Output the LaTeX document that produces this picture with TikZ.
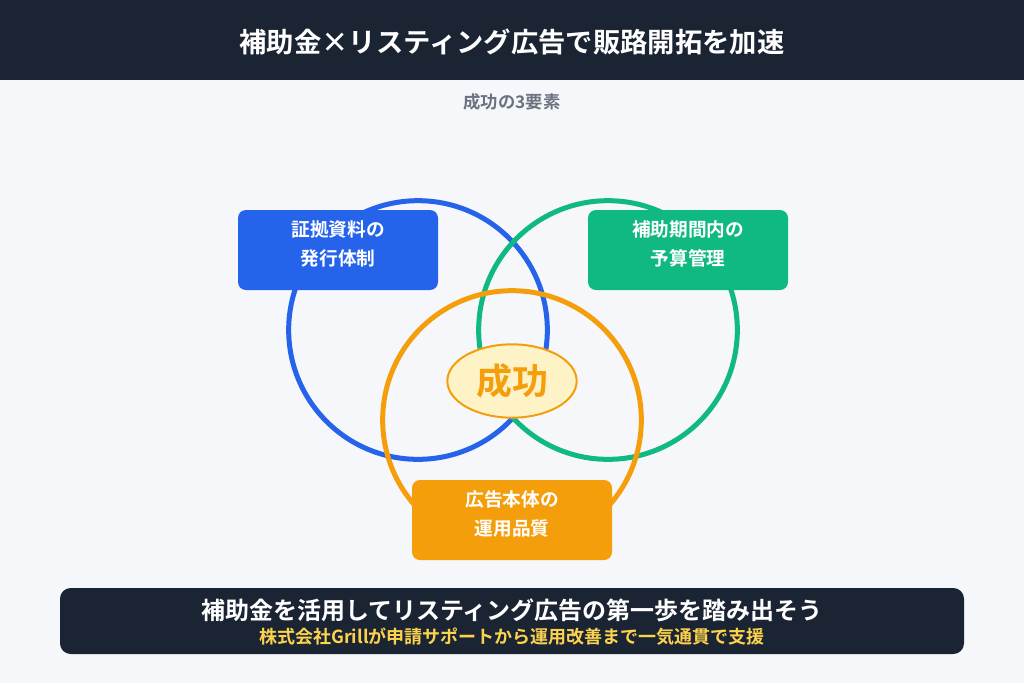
\documentclass[tikz,border=0pt]{standalone}
\usepackage{fontspec}
\setmainfont{Noto Sans CJK JP}[BoldFont={Noto Sans CJK JP Bold}]
\usetikzlibrary{shapes.geometric}
\definecolor{bg}{HTML}{F5F7FA}
\definecolor{dark}{HTML}{1B2433}
\definecolor{cblue}{HTML}{2563EB}
\definecolor{cgreen}{HTML}{10B981}
\definecolor{corange}{HTML}{F59E0B}
\definecolor{cgray}{HTML}{6B7280}
\definecolor{cyellow}{HTML}{FCD34D}
\definecolor{lightyellow}{HTML}{FEF3C7}
\tikzset{
  ring/.style={circle, draw, line width=3.75pt, minimum size=194pt, inner sep=0pt},
  labelbox/.style={rounded corners=6pt, minimum width=150pt, minimum height=60pt, inner sep=0pt},
  boxtext/.style={text=white, font=\bfseries\fontsize{14pt}{21.5pt}\selectfont, align=center, inner sep=0pt},
}
\begin{document}
\begin{tikzpicture}[x=0.75pt,y=-0.75pt]
\useasboundingbox (0,0) rectangle (1024,683);
\fill[bg] (0,0) rectangle (1024,683);
\fill[dark] (0,0) rectangle (1024,80);
\node[text=white, font=\bfseries\fontsize{20.5pt}{24pt}\selectfont] (title) at (512,42) {補助金×リスティング広告で販路開拓を加速};
\node[text=cgray, font=\bfseries\fontsize{13pt}{15pt}\selectfont] (sub) at (512,102) {成功の3要素};
% circles
\node[ring, draw=cblue] (cb) at (418,330) {};
\node[ring, draw=cgreen] (cg) at (608,330) {};
\node[ring, draw=corange] (co) at (512,420) {};
% boxes
\node[labelbox, fill=cblue] (bb) at (338,250) {};
\node[boxtext] (bbt) at (338,244) {証拠資料の\\発行体制};
\node[labelbox, fill=cgreen] (bg2) at (688,250) {};
\node[boxtext] (bgt) at (688,244) {補助期間内の\\予算管理};
\node[labelbox, fill=corange] (bo) at (512,520) {};
\node[boxtext] (bot) at (512,514) {広告本体の\\運用品質};
% center
\node[ellipse, draw=corange, line width=1.5pt, fill=lightyellow, minimum width=97pt, minimum height=55pt, inner sep=0pt,
  text=corange, font=\bfseries\fontsize{27pt}{30pt}\selectfont] (succ) at (512,381) {成功};
% bottom banner
\fill[dark, rounded corners=8pt] (60,588) rectangle (964,654);
\node[text=white, font=\bfseries\fontsize{18pt}{20pt}\selectfont] (b1) at (512,610) {補助金を活用してリスティング広告の第一歩を踏み出そう};
\node[text=cyellow, font=\bfseries\fontsize{13.5pt}{15pt}\selectfont] (b2) at (512,637) {株式会社Grillが申請サポートから運用改善まで一気通貫で支援};
\end{tikzpicture}
\end{document}
